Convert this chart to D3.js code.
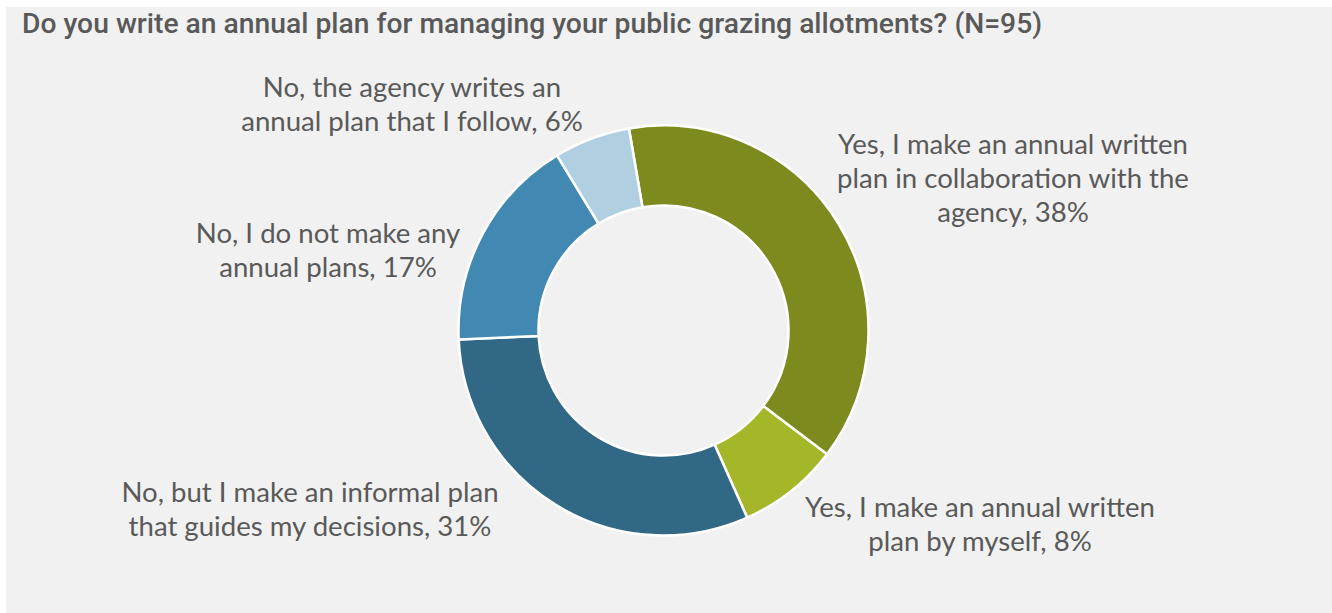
<!DOCTYPE html>
<html>
<head>
<meta charset="utf-8">
<script src="https://cdn.jsdelivr.net/npm/d3@7"></script>
<style>
  html, body { margin: 0; padding: 0; background: #ffffff; }
  svg { display: block; }
</style>
</head>
<body>
<svg id="chart" width="1332" height="613"></svg>
<script>
// ---- data ----
const title = "Do you write an annual plan for managing your public grazing allotments? (N=95)";
const categories = [
  "Yes, I make an annual written plan in collaboration with the agency",
  "Yes, I make an annual written plan by myself",
  "No, but I make an informal plan that guides my decisions",
  "No, I do not make any annual plans",
  "No, the agency writes an annual plan that I follow"
];
const values = [38, 8, 31, 17, 6];
const labelLines = [
  ["Yes, I make an annual written", "plan in collaboration with the", "agency, 38%"],
  ["Yes, I make an annual written", "plan by myself, 8%"],
  ["No, but I make an informal plan", "that guides my decisions, 31%"],
  ["No, I do not make any", "annual plans, 17%"],
  ["No, the agency writes an", "annual plan that I follow, 6%"]
];
const colors = ["#7f8a1e", "#a5b628", "#316885", "#4189b2", "#b0d0e2"];

// ---- layout ----
const cx = 663.5, cy = 330.5, outerR = 205, innerR = 125;
const startDeg = -9.7;
// label block anchors (center x, first baseline y) relative to donut center
const labelAnchor = [
  [349.5, -177], [316.5, 186.5], [-353.5, 171.5], [-335.5, -87.5], [-251.5, -233.5]
];
const lineGap = 34;
const textColor = "#595959";

const svg = d3.select("#chart");
svg.append("rect").attr("x", 6).attr("y", 7).attr("width", 1326).attr("height", 606).attr("fill", "#f1f1f1");

// title, fitted to the reference width
const titleText = svg.append("text")
  .attr("x", 22).attr("y", 33)
  .attr("fill", textColor)
  .style("font-family", "Roboto, 'Liberation Sans', sans-serif")
  .style("font-weight", 500)
  .style("font-size", "25px")
  .text(title);
const tw = titleText.node().getComputedTextLength();
titleText.style("font-size", (25 * 1020 / tw).toFixed(2) + "px");

// donut
const pie = d3.pie().sort(null).value(d => d)
  .startAngle(startDeg * Math.PI / 180)
  .endAngle((startDeg + 360) * Math.PI / 180);
const arc = d3.arc().innerRadius(innerR).outerRadius(outerR);
const g = svg.append("g").attr("transform", `translate(${cx},${cy})`);
g.selectAll("path").data(pie(values)).join("path")
  .attr("d", arc)
  .attr("fill", (d, i) => colors[i])
  .attr("stroke", "#ffffff")
  .attr("stroke-width", 2.5)
  .attr("stroke-linejoin", "round");

// labels
const fontFam = "Lato, 'Open Sans', sans-serif";
const probe = svg.append("text").style("font-family", fontFam).style("font-size", "29px").text(labelLines[0][0]);
const pw = probe.node().getComputedTextLength();
probe.remove();
const labelSize = 29 * 350 / pw;

const lg = svg.append("g");
labelLines.forEach((lines, i) => {
  const t = lg.append("text")
    .attr("text-anchor", "middle")
    .attr("fill", textColor)
    .style("font-family", fontFam)
    .style("font-size", labelSize.toFixed(2) + "px");
  lines.forEach((ln, j) => {
    t.append("tspan")
      .attr("x", cx + labelAnchor[i][0])
      .attr("y", cy + labelAnchor[i][1] + j * lineGap)
      .text(ln);
  });
});
</script>
</body>
</html>
